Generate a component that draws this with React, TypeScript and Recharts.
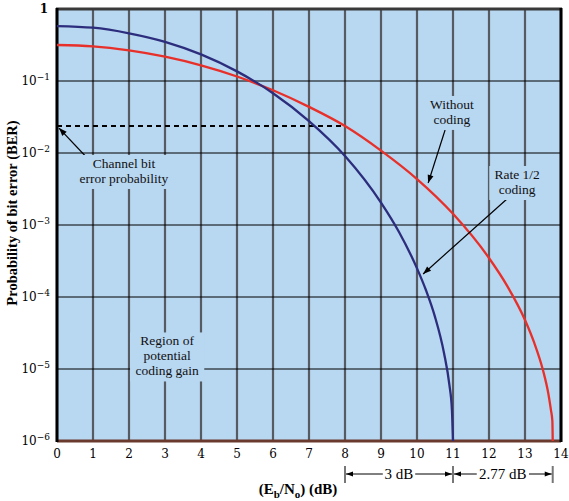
import React from "react";
import {
  LineChart,
  Line,
  XAxis,
  YAxis,
  CartesianGrid,
  ReferenceLine,
  ReferenceDot,
  ReferenceArea,
} from "recharts";

// Eb/No (dB) and BER
const uncodedEbNo = [0, 1, 2, 3, 4, 5, 6, 7, 8, 9, 10, 11, 12, 12.5, 13, 13.25, 13.5, 13.65, 13.72, 13.76, 13.77];
const uncodedBer = [0.316, 0.303, 0.266, 0.2175, 0.165, 0.1155, 0.0743, 0.0437, 0.0237, 0.0108, 0.00435, 0.00143, 3.48e-4, 1.44e-4, 4.8e-5, 2.36e-5, 9.6e-6, 4.5e-6, 2.7e-6, 1.9e-6, 1e-6];

const codedEbNo = [0, 1, 2, 3, 4, 5, 6, 7, 8, 9, 9.5, 10, 10.25, 10.5, 10.75, 10.9, 10.97, 11];
const codedBer = [0.58, 0.55, 0.46, 0.35, 0.234, 0.136, 0.0677, 0.0278, 0.0091, 0.00205, 8.0e-4, 2.5e-4, 1.24e-4, 5.3e-5, 1.67e-5, 6e-6, 2.7e-6, 1e-6];

const ebNoTicks = [0, 1, 2, 3, 4, 5, 6, 7, 8, 9, 10, 11, 12, 13, 14];
const berTicks = [1, 1e-1, 1e-2, 1e-3, 1e-4, 1e-5, 1e-6];

const channelBer = 0.0237;
const channelEbNo = 8;

const noteLines = [
  ["Channel bit", "error probability"],
  ["Without", "coding"],
  ["Rate 1/2", "coding"],
  ["Region of", "potential", "coding gain"],
];
const noteEbNo = [1.86, 10.97, 12.78, 3.06];
const noteBer = [0.00545, 0.036, 0.00383, 1.47e-5];

const arrowFromEbNo = [0.97, 10.78, 12.53];
const arrowFromBer = [0.00726, 0.0209, 0.00237];
const arrowToEbNo = [0.056, 10.31, 10.17];
const arrowToBer = [0.0222, 0.00383, 2.09e-4];

const gainFrom = [8, 11];
const gainTo = [11, 13.77];
const gainLabel = ["3 dB", "2.77 dB"];

const uncoded = uncodedEbNo.map((x, i) => ({ x, ber: uncodedBer[i] }));
const coded = codedEbNo.map((x, i) => ({ x, ber: codedBer[i] }));

const SERIF = "'Liberation Serif', 'DejaVu Serif', serif";
const TICK_FONT = "'DejaVu Serif', serif";
const BG = "#b8d7f1";

const SUPER = ["", "\u22121", "\u22122", "\u22123", "\u22124", "\u22125", "\u22126"];

function YTick({ x, y, payload }: any) {
  const exp = Math.round(-Math.log10(payload.value));
  if (exp === 0) {
    return (
      <text x={x - 6} y={y + 4} textAnchor="middle" fontFamily={TICK_FONT} fontSize={12} fontWeight="bold" fill="#000">
        1
      </text>
    );
  }
  return (
    <text x={x} y={y + 4} textAnchor="end" fontFamily={TICK_FONT} fontSize={12} fill="#000">
      <tspan>10</tspan>
      <tspan dy={-5} fontSize={9}>
        {SUPER[exp]}
      </tspan>
    </text>
  );
}

function XTick({ x, y, payload }: any) {
  return (
    <text x={x} y={y + 17} textAnchor="middle" fontFamily={TICK_FONT} fontSize={12} fill="#000">
      {payload.value}
    </text>
  );
}

function arrowHead(x1: number, y1: number, x2: number, y2: number, len = 8, half = 3) {
  const a = Math.atan2(y2 - y1, x2 - x1);
  const bx = x2 - len * Math.cos(a);
  const by = y2 - len * Math.sin(a);
  const px = -Math.sin(a) * half;
  const py = Math.cos(a) * half;
  return `${x2},${y2} ${bx + px},${by + py} ${bx - px},${by - py}`;
}

function Arrow(props: any) {
  const { x1, y1, x2, y2 } = props;
  return (
    <g>
      <line x1={x1} y1={y1} x2={x2} y2={y2} stroke="#000" strokeWidth={1.2} />
      <polygon points={arrowHead(x1, y1, x2, y2)} fill="#000" />
    </g>
  );
}

function Note(lines: string[]) {
  return (props: any) => {
    const { cx, cy } = props;
    const lh = 15;
    const w = Math.max(...lines.map((l) => l.length)) * 6.2 + 6;
    const h = lines.length * lh + 4;
    const top = cy - (lines.length * lh) / 2;
    return (
      <g>
        <rect x={cx - w / 2} y={cy - h / 2} width={w} height={h} fill={BG} />
        {lines.map((l, i) => (
          <text key={i} x={cx} y={top + lh * i + 11} textAnchor="middle" fontFamily={SERIF} fontSize={13.5} fill="#111">
            {l}
          </text>
        ))}
      </g>
    );
  };
}

function Gain(label: string) {
  return (props: any) => {
    const { x, y, width, height } = props;
    const base = y + height;
    const ay = base + 33;
    const xr = x + width;
    const tw = label.length * 6.6 + 6;
    const mid = x + width / 2;
    return (
      <g>
        <line x1={x} y1={base + 25} x2={x} y2={base + 42} stroke="#777" strokeWidth={2} />
        <line x1={xr} y1={base + 25} x2={xr} y2={base + 42} stroke="#777" strokeWidth={2} />
        <line x1={x + 1} y1={ay} x2={xr - 1} y2={ay} stroke="#000" strokeWidth={1} />
        <polygon points={arrowHead(mid, ay, x + 1, ay, 7, 2.5)} fill="#000" />
        <polygon points={arrowHead(mid, ay, xr - 1, ay, 7, 2.5)} fill="#000" />
        <rect x={mid - tw / 2} y={ay - 9} width={tw} height={16} fill="#fff" />
        <text x={mid} y={ay + 5} textAnchor="middle" fontFamily={SERIF} fontSize={15} fill="#000">
          {label}
        </text>
      </g>
    );
  };
}

function Frame(props: any) {
  const { x, y, width, height } = props;
  return (
    <g>
      <line x1={x - 1} y1={y} x2={x + width + 1} y2={y} stroke="#3a3a3a" strokeWidth={3} />
      <line x1={x} y1={y + height} x2={x + width} y2={y + height} stroke="#6a3a2e" strokeWidth={3} />
      <line x1={x} y1={y - 1} x2={x} y2={y + height + 1} stroke="#000" strokeWidth={3} />
      <line x1={x + width} y1={y - 1} x2={x + width} y2={y + height + 1} stroke="#000" strokeWidth={3} />
    </g>
  );
}

function XLabel(props: any) {
  const { viewBox } = props;
  const cx = viewBox.x + viewBox.width / 2 - 11;
  return (
    <text x={cx} y={viewBox.y + 53} textAnchor="middle" fontFamily={SERIF} fontSize={15} fontWeight="bold" fill="#000">
      <tspan>(E</tspan>
      <tspan fontSize={11} dy={4}>b</tspan>
      <tspan dy={-4}>/N</tspan>
      <tspan fontSize={11} dy={4}>o</tspan>
      <tspan dy={-4}>) (dB)</tspan>
    </text>
  );
}

function YLabel(props: any) {
  const { viewBox } = props;
  const cx = 12;
  const cy = viewBox.y + viewBox.height / 2 - 12;
  return (
    <text
      x={cx}
      y={cy}
      transform={`rotate(-90 ${cx} ${cy})`}
      textAnchor="middle"
      dominantBaseline="central"
      fontFamily={SERIF}
      fontSize={14.5}
      fontWeight="bold"
      fill="#000"
    >
      Probability of bit error (BER)
    </text>
  );
}

export default function App() {
  return (
    <div style={{ position: "absolute", left: 0, top: 0, width: 569, height: 501, background: "#fff" }}>
      <LineChart width={569} height={501} margin={{ top: 9, right: 8, bottom: 0, left: 0 }}>
        <CartesianGrid horizontal={false} stroke="#555b61" strokeWidth={2.2} fill={BG} fillOpacity={1} />
        <CartesianGrid vertical={false} stroke="#000" strokeWidth={1} />
        <XAxis
          type="number"
          dataKey="x"
          domain={[0, 14]}
          ticks={ebNoTicks}
          interval={0}
          height={60}
          axisLine={false}
          tickLine={false}
          tickSize={0}
          tickMargin={0}
          tick={<XTick />}
          label={<XLabel />}
        />
        <YAxis
          type="number"
          scale="log"
          domain={[1e-6, 1]}
          allowDataOverflow
          ticks={berTicks}
          interval={0}
          width={57}
          axisLine={false}
          tickLine={false}
          tickSize={0}
          tickMargin={7}
          tick={<YTick />}
          label={<YLabel />}
        />
        {noteLines.map((lines, i) => (
          <ReferenceDot key={"n" + i} x={noteEbNo[i]} y={noteBer[i]} r={0} ifOverflow="visible" shape={Note(lines)} />
        ))}
        <ReferenceLine
          segment={[
            { x: 0, y: channelBer },
            { x: channelEbNo, y: channelBer },
          ]}
          stroke="#000"
          strokeWidth={2}
          strokeDasharray="5 4"
        />
        <Line data={uncoded} dataKey="ber" type="monotone" stroke="#e8302a" strokeWidth={2.3} dot={false} isAnimationActive={false} />
        <Line data={coded} dataKey="ber" type="monotone" stroke="#2c2d7c" strokeWidth={2.3} dot={false} isAnimationActive={false} />
        {arrowFromEbNo.map((x, i) => (
          <ReferenceLine
            key={"a" + i}
            segment={[
              { x, y: arrowFromBer[i] },
              { x: arrowToEbNo[i], y: arrowToBer[i] },
            ]}
            ifOverflow="visible"
            shape={Arrow}
          />
        ))}
        <ReferenceArea ifOverflow="visible" fill="none" shape={Frame} />
        {gainFrom.map((x, i) => (
          <ReferenceArea key={"g" + i} x1={x} x2={gainTo[i]} ifOverflow="visible" shape={Gain(gainLabel[i])} />
        ))}
      </LineChart>
    </div>
  );
}
